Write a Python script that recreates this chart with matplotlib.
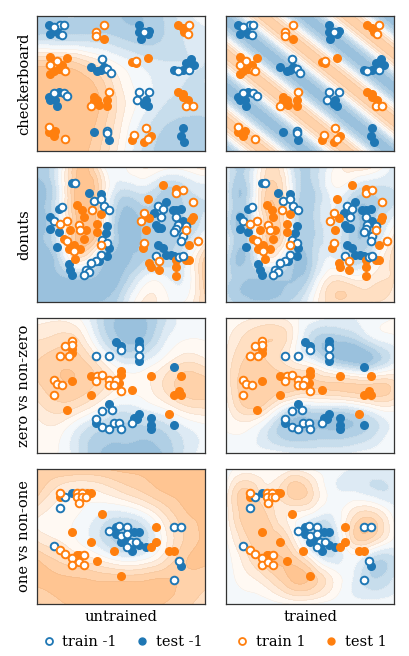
import numpy as np
import matplotlib
matplotlib.use("Agg")
import matplotlib.pyplot as plt
import matplotlib.tri as mtri
from matplotlib.colors import LinearSegmentedColormap, to_rgb
from matplotlib.lines import Line2D

plt.rcParams["font.family"] = ["DejaVu Serif"]

ROW_NAMES = ["checkerboard", "donuts", "zero vs non-zero", "one vs non-one"]
COL_NAMES = ["untrained", "trained"]

# decision value on a coarse grid
# rows run top (y=1) to bottom (y=0), columns left (x=0) to right (x=1)
GRID_X = [0.0, 0.125, 0.25, 0.375, 0.5, 0.625, 0.75, 0.875, 1.0]
GRID_Y = [1.0, 0.833, 0.667, 0.5, 0.333, 0.167, 0.0]

cb_untrained = [
    [-0.6, -0.6, -0.6, -0.7, -0.8, -0.8, -0.6, -0.3, -0.1],
    [-0.5, -0.5, -0.5, -0.5, -0.6, -0.7, -0.6, -0.4, -0.3],
    [0.6, 0.6, 0.5, 0.2, -0.1, -0.3, -0.4, -0.4, -0.4],
    [0.95, 0.95, 0.9, 0.7, 0.2, -0.1, -0.3, -0.4, -0.4],
    [0.95, 0.95, 0.95, 0.8, 0.3, -0.1, -0.4, -0.5, -0.5],
    [0.95, 0.95, 0.95, 0.7, 0.2, -0.3, -0.6, -0.7, -0.7],
    [0.95, 0.95, 0.9, 0.6, 0.1, -0.4, -0.7, -0.7, -0.7],
]
# trained checkerboard: diagonal stripes, value read along x + y
cb_trained_s = [-0.03, 0.02, 0.07, 0.11, 0.155, 0.19, 0.22, 0.25, 0.285, 0.33, 0.37, 0.42,
                0.47, 0.52, 0.57, 0.61, 0.655, 0.69, 0.72, 0.75, 0.785, 0.83, 0.87, 0.92,
                0.97, 1.02, 1.07, 1.11, 1.155, 1.19, 1.22, 1.25, 1.285, 1.33, 1.37, 1.42,
                1.47, 1.52, 1.57, 1.61, 1.655, 1.69, 1.72, 1.75, 1.785, 1.83, 1.87, 1.92,
                1.97, 2.03]
cb_trained_v = [-0.85, -0.8, -0.5, 0.0, 0.45, 0.65, 0.75, 0.65, 0.45, 0.0, -0.5, -0.8,
                -0.85, -0.8, -0.5, 0.0, 0.45, 0.65, 0.75, 0.65, 0.45, 0.0, -0.5, -0.8,
                -0.85, -0.8, -0.5, 0.0, 0.45, 0.65, 0.75, 0.65, 0.45, 0.0, -0.5, -0.8,
                -0.85, -0.8, -0.5, 0.0, 0.45, 0.65, 0.75, 0.65, 0.45, 0.0, -0.5, -0.8,
                -0.85, -0.8]
donut_untrained = [
    [-0.8, -0.3, 0.85, 0.2, -0.1, 0.2, 0.1, 0.1, 0.3],
    [-0.9, -0.3, 0.95, 0.5, -0.4, -0.3, -0.6, -0.5, -0.3],
    [-0.9, -0.3, 0.95, 0.5, -0.8, -0.7, -0.7, -0.6, -0.4],
    [-0.9, -0.3, 0.95, 0.45, -0.9, -0.8, -0.7, -0.6, -0.1],
    [-0.9, -0.6, 0.4, -0.4, -0.9, -0.7, -0.6, -0.3, 0.6],
    [-0.9, -0.9, -0.8, -0.9, -0.8, -0.2, -0.1, -0.2, 0.7],
    [-0.9, -0.9, -0.9, -0.8, -0.5, 0.2, 0.1, 0.0, 0.6],
]
donut_trained = [
    [-0.3, -0.6, 0.45, -0.2, -0.6, -0.1, 0.3, 0.2, -0.3],
    [-0.3, -0.6, 0.65, 0.0, -0.7, -0.1, -0.3, -0.5, -0.4],
    [-0.3, -0.6, 0.7, 0.0, -0.7, -0.2, -0.7, -0.7, -0.3],
    [-0.3, -0.6, 0.7, 0.0, -0.7, -0.3, -0.7, -0.6, 0.2],
    [-0.4, -0.75, 0.2, -0.5, -0.7, -0.2, -0.6, -0.2, 0.5],
    [-0.5, -0.8, -0.8, -0.8, -0.5, 0.3, 0.2, 0.3, 0.4],
    [-0.5, -0.75, -0.75, -0.6, -0.1, 0.5, 0.5, 0.4, 0.3],
]
zero_untrained = [
    [0.1, 0.15, 0.0, -0.5, -0.85, -0.85, -0.5, -0.1, -0.05],
    [0.4, 0.5, 0.4, -0.3, -0.8, -0.8, -0.3, 0.0, 0.0],
    [0.6, 0.75, 0.7, 0.3, -0.2, -0.2, 0.1, 0.4, 0.3],
    [0.55, 0.75, 0.75, 0.5, 0.15, 0.1, 0.4, 0.7, 0.7],
    [0.3, 0.5, 0.35, 0.0, -0.3, -0.2, 0.0, 0.3, 0.4],
    [0.1, 0.1, -0.3, -0.6, -0.7, -0.7, -0.6, -0.3, -0.1],
    [0.0, 0.0, -0.4, -0.8, -0.85, -0.85, -0.8, -0.4, -0.1],
]
zero_trained = [
    [0.0, 0.15, 0.25, 0.1, -0.1, -0.2, -0.2, -0.1, 0.0],
    [0.15, 0.5, 0.6, 0.3, -0.5, -0.8, -0.7, -0.3, -0.1],
    [0.25, 0.65, 0.6, 0.3, 0.0, -0.5, -0.8, -0.7, -0.2],
    [0.25, 0.75, 0.75, 0.75, 0.65, 0.65, 0.65, 0.65, 0.5],
    [0.1, 0.6, 0.35, -0.3, -0.4, -0.4, -0.3, 0.0, 0.1],
    [0.0, 0.0, -0.4, -0.8, -0.8, -0.8, -0.75, -0.5, -0.1],
    [-0.05, -0.1, -0.1, -0.2, -0.25, -0.25, -0.2, -0.1, -0.05],
]
one_untrained = [
    [0.8, 0.8, 0.8, 0.8, 0.85, 0.85, 0.85, 0.85, 0.85],
    [0.7, 0.3, 0.15, 0.2, 0.4, 0.6, 0.8, 0.85, 0.85],
    [0.25, 0.1, 0.0, -0.2, -0.3, -0.1, 0.35, 0.75, 0.85],
    [0.3, 0.15, -0.05, -0.4, -0.75, -0.6, 0.05, 0.6, 0.85],
    [0.8, 0.55, 0.35, 0.15, -0.1, -0.05, 0.3, 0.75, 0.85],
    [0.85, 0.85, 0.85, 0.8, 0.8, 0.8, 0.85, 0.75, 0.65],
    [0.55, 0.75, 0.85, 0.85, 0.85, 0.85, 0.8, 0.65, 0.55],
]
one_trained = [
    [-0.15, 0.1, 0.0, 0.1, 0.0, -0.1, -0.2, -0.2, -0.2],
    [0.1, 0.65, 0.3, 0.65, 0.5, -0.1, -0.2, -0.35, -0.35],
    [0.1, 0.75, 0.55, 0.2, 0.0, -0.2, 0.3, 0.45, -0.1],
    [0.0, 0.6, 0.75, 0.35, -0.55, -0.6, 0.5, 0.6, 0.0],
    [-0.1, 0.35, 0.75, 0.75, 0.2, -0.35, -0.1, -0.5, -0.45],
    [-0.1, 0.1, 0.35, 0.75, 0.75, 0.25, -0.2, -0.55, -0.35],
    [-0.1, -0.15, -0.1, 0.0, 0.0, -0.1, -0.15, -0.1, -0.1],
]

# points: [x, y]
cb_train_neg = [[0.14, 0.93], [0.16, 0.93], [0.15, 0.86], [0.10, 0.92], [0.64, 0.88],
                [0.39, 0.68], [0.42, 0.61], [0.44, 0.58], [0.91, 0.60], [0.84, 0.59],
                [0.10, 0.43], [0.16, 0.43], [0.18, 0.41], [0.61, 0.44], [0.67, 0.44],
                [0.60, 0.38], [0.42, 0.15], [0.42, 0.13]]
cb_test_neg = [[0.07, 0.93], [0.08, 0.87], [0.11, 0.89], [0.12, 0.91], [0.13, 0.87],
               [0.61, 0.93], [0.61, 0.88], [0.67, 0.89], [0.62, 0.83], [0.66, 0.87],
               [0.32, 0.62], [0.38, 0.60], [0.36, 0.59], [0.40, 0.62],
               [0.89, 0.65], [0.92, 0.68], [0.94, 0.64], [0.82, 0.60], [0.87, 0.60], [0.90, 0.62],
               [0.07, 0.40], [0.13, 0.44], [0.11, 0.38], [0.12, 0.33], [0.08, 0.38],
               [0.65, 0.38], [0.66, 0.33], [0.64, 0.35],
               [0.34, 0.14], [0.43, 0.08], [0.87, 0.17], [0.86, 0.11], [0.88, 0.07]]
cb_train_pos = [[0.40, 0.93], [0.35, 0.88], [0.35, 0.85], [0.91, 0.93], [0.90, 0.87],
                [0.08, 0.64], [0.12, 0.67], [0.16, 0.60], [0.17, 0.59], [0.59, 0.67],
                [0.32, 0.33], [0.43, 0.44], [0.89, 0.33], [0.93, 0.33],
                [0.07, 0.18], [0.17, 0.09], [0.65, 0.17], [0.58, 0.12], [0.66, 0.09]]
cb_test_pos = [[0.40, 0.83], [0.84, 0.93], [0.87, 0.91], [0.88, 0.88],
               [0.08, 0.70], [0.13, 0.61], [0.18, 0.69], [0.10, 0.59], [0.15, 0.64], [0.08, 0.57],
               [0.57, 0.66], [0.66, 0.69], [0.59, 0.65],
               [0.34, 0.40], [0.34, 0.37], [0.37, 0.34], [0.42, 0.38], [0.42, 0.33], [0.36, 0.38],
               [0.84, 0.44], [0.87, 0.42], [0.90, 0.38], [0.87, 0.40],
               [0.07, 0.14], [0.11, 0.15], [0.10, 0.11], [0.57, 0.08], [0.64, 0.07], [0.68, 0.11]]

donut_train_neg = [[0.23, 0.88], [0.34, 0.75], [0.38, 0.76], [0.40, 0.71], [0.43, 0.68],
                   [0.15, 0.70], [0.10, 0.60], [0.39, 0.46], [0.42, 0.44], [0.38, 0.35],
                   [0.35, 0.30], [0.32, 0.29], [0.29, 0.24], [0.31, 0.22], [0.28, 0.20],
                   [0.72, 0.71], [0.75, 0.69], [0.74, 0.63], [0.83, 0.63], [0.84, 0.57],
                   [0.89, 0.56], [0.83, 0.54], [0.82, 0.52], [0.87, 0.49], [0.86, 0.45],
                   [0.71, 0.34], [0.85, 0.33], [0.87, 0.34]]
donut_test_neg = [[0.21, 0.88], [0.31, 0.81], [0.38, 0.80], [0.13, 0.69], [0.08, 0.63],
                  [0.08, 0.54], [0.13, 0.52], [0.12, 0.41], [0.42, 0.56], [0.41, 0.51],
                  [0.43, 0.40], [0.42, 0.34], [0.37, 0.30], [0.19, 0.28], [0.20, 0.24],
                  [0.21, 0.20], [0.77, 0.74], [0.81, 0.68], [0.83, 0.68], [0.86, 0.69],
                  [0.70, 0.66], [0.71, 0.57], [0.72, 0.55], [0.74, 0.55], [0.87, 0.60],
                  [0.72, 0.42], [0.75, 0.40], [0.77, 0.35], [0.80, 0.35], [0.82, 0.34]]
donut_train_pos = [[0.33, 0.68], [0.18, 0.60], [0.14, 0.58], [0.25, 0.57], [0.26, 0.53],
                   [0.18, 0.45], [0.38, 0.42], [0.22, 0.38], [0.83, 0.81], [0.87, 0.83],
                   [0.93, 0.74], [0.64, 0.66], [0.62, 0.60], [0.89, 0.53], [0.64, 0.44],
                   [0.96, 0.45], [0.73, 0.30]]
donut_test_pos = [[0.24, 0.72], [0.27, 0.68], [0.28, 0.63], [0.38, 0.65], [0.36, 0.58],
                  [0.20, 0.53], [0.29, 0.53], [0.36, 0.52], [0.16, 0.47], [0.28, 0.47],
                  [0.22, 0.42], [0.19, 0.39], [0.26, 0.39], [0.23, 0.32],
                  [0.75, 0.87], [0.83, 0.84], [0.66, 0.76], [0.67, 0.62], [0.93, 0.63],
                  [0.92, 0.61], [0.65, 0.53], [0.63, 0.40], [0.91, 0.42], [0.67, 0.29],
                  [0.68, 0.26], [0.73, 0.24], [0.83, 0.31], [0.83, 0.26], [0.89, 0.31],
                  [0.91, 0.31], [0.83, 0.19]]

zero_train_neg = [[0.50, 0.76], [0.61, 0.78], [0.61, 0.72], [0.35, 0.72], [0.43, 0.72],
                  [0.39, 0.31], [0.45, 0.32], [0.35, 0.25], [0.39, 0.19], [0.43, 0.18],
                  [0.46, 0.22], [0.49, 0.22], [0.50, 0.18], [0.57, 0.22]]
zero_test_neg = [[0.47, 0.82], [0.50, 0.79], [0.61, 0.83], [0.61, 0.80], [0.61, 0.68],
                 [0.82, 0.64], [0.43, 0.36], [0.35, 0.22], [0.60, 0.25], [0.58, 0.26],
                 [0.61, 0.29], [0.68, 0.26], [0.68, 0.21], [0.68, 0.18], [0.82, 0.21]]
zero_train_pos = [[0.21, 0.83], [0.21, 0.80], [0.17, 0.79], [0.14, 0.72], [0.19, 0.72],
                  [0.10, 0.54], [0.12, 0.51], [0.15, 0.50], [0.10, 0.43], [0.36, 0.57],
                  [0.39, 0.58], [0.35, 0.53], [0.43, 0.54], [0.47, 0.54], [0.43, 0.50],
                  [0.46, 0.50], [0.50, 0.46]]
zero_test_pos = [[0.21, 0.77], [0.21, 0.74], [0.21, 0.53], [0.32, 0.57], [0.50, 0.61],
                 [0.50, 0.58], [0.49, 0.52], [0.32, 0.43], [0.57, 0.47], [0.68, 0.57],
                 [0.18, 0.32], [0.79, 0.29], [0.86, 0.57], [0.85, 0.46], [0.82, 0.43],
                 [0.86, 0.43]]

one_train_neg = [[0.17, 0.79], [0.14, 0.71], [0.10, 0.43], [0.82, 0.57], [0.86, 0.57],
                 [0.85, 0.32], [0.82, 0.18], [0.43, 0.54], [0.49, 0.58], [0.54, 0.57],
                 [0.50, 0.50], [0.54, 0.52], [0.56, 0.46], [0.59, 0.46], [0.54, 0.42]]
one_test_neg = [[0.21, 0.82], [0.86, 0.28], [0.47, 0.57], [0.47, 0.52], [0.58, 0.53],
                [0.61, 0.53], [0.50, 0.46], [0.53, 0.48], [0.61, 0.44], [0.56, 0.42],
                [0.57, 0.39], [0.65, 0.42]]
one_train_pos = [[0.14, 0.82], [0.24, 0.82], [0.27, 0.82], [0.24, 0.79], [0.27, 0.79],
                 [0.25, 0.75], [0.29, 0.79], [0.14, 0.40], [0.17, 0.37], [0.21, 0.34],
                 [0.28, 0.36], [0.21, 0.29], [0.25, 0.31], [0.28, 0.29]]
one_test_pos = [[0.14, 0.79], [0.30, 0.82], [0.32, 0.82], [0.39, 0.67], [0.21, 0.53],
                [0.32, 0.46], [0.24, 0.36], [0.25, 0.36], [0.36, 0.32], [0.46, 0.39],
                [0.50, 0.21], [0.71, 0.57], [0.71, 0.46], [0.68, 0.42], [0.79, 0.39],
                [0.82, 0.39]]

FIELDS = [
    [cb_untrained, (cb_trained_s, cb_trained_v)],
    [donut_untrained, donut_trained],
    [zero_untrained, zero_trained],
    [one_untrained, one_trained],
]
POINTS = [
    (cb_train_neg, cb_test_neg, cb_train_pos, cb_test_pos),
    (donut_train_neg, donut_test_neg, donut_train_pos, donut_test_pos),
    (zero_train_neg, zero_test_neg, zero_train_pos, zero_test_pos),
    (one_train_neg, one_test_neg, one_train_pos, one_test_pos),
]

BLUE = "#1f77b4"
ORANGE = "#ff7f0e"


def soften(c, f=0.5):
    c = np.array(to_rgb(c))
    return tuple(1 - f * (1 - c))


cmap = LinearSegmentedColormap.from_list("bwo", [soften(BLUE), "white", soften(ORANGE)])
levels = np.linspace(-1, 1, 11)

gx, gy = np.meshgrid(GRID_X, GRID_Y)
triang = mtri.Triangulation(gx.ravel(), gy.ravel())
refiner = mtri.UniformTriRefiner(triang)


def draw_field(ax, field):
    kw = dict(levels=levels, cmap=cmap, vmin=-1, vmax=1)
    line_kw = dict(levels=levels, colors="k", linewidths=0.3, alpha=0.07)
    if isinstance(field, tuple):
        s_vals, v_vals = field
        xx, yy = np.meshgrid(np.linspace(0, 1, 200), np.linspace(0, 1, 200))
        zz = np.interp(xx + yy, s_vals, v_vals)
        ax.contourf(xx, yy, zz, **kw)
        ax.contour(xx, yy, zz, **line_kw)
        return
    z = np.asarray(field, dtype=float).ravel()
    interp = mtri.CubicTriInterpolator(triang, z, kind="min_E")
    tri_f, z_f = refiner.refine_field(z, triinterpolator=interp, subdiv=4)
    z_f = np.clip(z_f, -0.99, 0.99)
    ax.tricontourf(tri_f, z_f, **kw)
    ax.tricontour(tri_f, z_f, **line_kw)


def draw_points(ax, groups):
    train_neg, test_neg, train_pos, test_pos = [np.asarray(g) for g in groups]
    kw = dict(s=30, zorder=3)
    ax.scatter(test_neg[:, 0], test_neg[:, 1], color=BLUE, **kw)
    ax.scatter(test_pos[:, 0], test_pos[:, 1], color=ORANGE, **kw)
    ax.scatter(train_neg[:, 0], train_neg[:, 1], facecolor="white", edgecolor=BLUE,
               linewidths=1.4, **kw)
    ax.scatter(train_pos[:, 0], train_pos[:, 1], facecolor="white", edgecolor=ORANGE,
               linewidths=1.4, **kw)


fig, axes = plt.subplots(4, 2, figsize=(4.1, 6.56), dpi=100)
fig.subplots_adjust(left=0.090, right=0.961, top=0.9756, bottom=0.0793,
                    wspace=0.13, hspace=0.1185)

for r in range(4):
    for c in range(2):
        ax = axes[r, c]
        draw_field(ax, FIELDS[r][c])
        draw_points(ax, POINTS[r])
        ax.set_xlim(0, 1)
        ax.set_ylim(0, 1)
        ax.set_xticks([])
        ax.set_yticks([])
        for sp in ax.spines.values():
            sp.set_color("0.2")
            sp.set_linewidth(0.9)
        if c == 0:
            ax.set_ylabel(ROW_NAMES[r], fontsize=10.5, labelpad=4)
        if r == 3:
            ax.set_xlabel(COL_NAMES[c], fontsize=10.5, labelpad=4)

h_train_neg = Line2D([], [], ls="none", marker="o", ms=5, mfc="white", mec=BLUE, mew=1.3)
h_test_neg = Line2D([], [], ls="none", marker="o", ms=5, color=BLUE)
h_train_pos = Line2D([], [], ls="none", marker="o", ms=5, mfc="white", mec=ORANGE, mew=1.3)
h_test_pos = Line2D([], [], ls="none", marker="o", ms=5, color=ORANGE)

fig.legend([h_train_neg, h_test_neg], ["train -1", "test -1"], loc="center",
           bbox_to_anchor=(0.295, 0.021), ncol=2, frameon=False, fontsize=10.5,
           handletextpad=0.3, columnspacing=1.2, handlelength=1.2)
fig.legend([h_train_pos, h_test_pos], ["train 1", "test 1"], loc="center",
           bbox_to_anchor=(0.756, 0.021), ncol=2, frameon=False, fontsize=10.5,
           handletextpad=0.3, columnspacing=1.2, handlelength=1.2)

fig.savefig("out.png", dpi=100)
